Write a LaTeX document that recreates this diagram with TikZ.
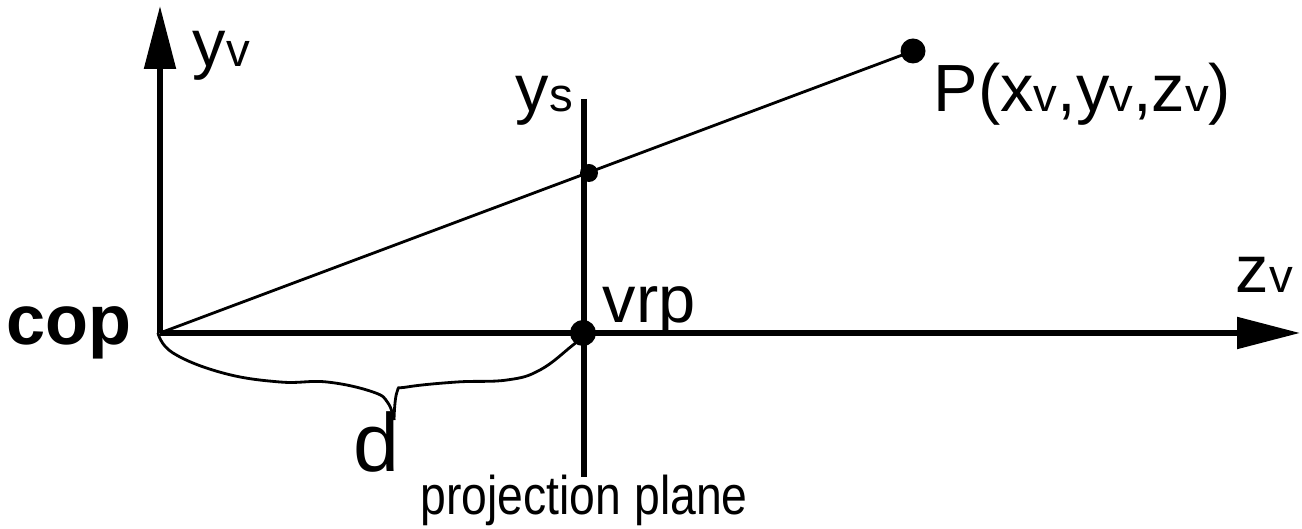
\documentclass[tikz,border=0pt]{standalone}
\usepackage{fontspec}
\setmainfont{Liberation Sans}
\usetikzlibrary{arrows.meta}
\newcommand{\ssc}[1]{{\fontsize{13.5}{16}\selectfont #1}}

\begin{document}
\begin{tikzpicture}[
  axis/.style={line width=1.5pt, -{Triangle[length=0.63cm, width=0.31cm]}},
  lbl/.style={anchor=base west, inner sep=0pt, font=\fontsize{19}{23}\selectfont},
  dot/.style={circle, fill=black, inner sep=0pt, minimum size=#1}
]
  \useasboundingbox (-1.60,-1.96) rectangle (11.42,3.33);

  \coordinate (cop) at (0,0);
  \coordinate (vtop) at (0,3.27);
  \coordinate (zend) at (11.40,0);
  \coordinate (ptop) at (4.24,2.34);
  \coordinate (pbot) at (4.24,-1.44);

  % axes and projection plane
  \draw[axis] (cop) -- (vtop);
  \draw[axis] (cop) -- (zend);
  \draw[line width=1.5pt] (ptop) -- (pbot);

  % projector from cop through P
  \node[dot=0.25cm] (P) at (7.53,2.82) {};
  \draw[line width=0.8pt] (cop) -- (P.center);
  \node[dot=0.18cm] (hit) at (4.29,1.60) {};
  \node[dot=0.26cm] (vrp) at (4.23,0) {};

  % brace for d
  \draw[line width=0.8pt] plot[smooth, tension=0.7] coordinates {(-0.02,0) (0.13,-0.20) (0.63,-0.40) (1.20,-0.49) (1.67,-0.49) (2.13,-0.59) (2.28,-0.70) (2.34,-0.87)};
  \draw[line width=0.8pt] plot[smooth, tension=0.7] coordinates {(2.34,-0.87) (2.37,-0.59) (2.47,-0.54) (2.97,-0.49) (3.47,-0.47) (3.80,-0.37) (4.13,-0.12) (4.30,0.02) (4.25,0.04)};

  % labels
  \node[lbl] (yv) at (0.32,2.66) {y\ssc{v}};
  \node[lbl] (ys) at (3.55,2.21) {y\ssc{s}};
  \node[lbl] (vrplbl) at (4.42,0.10) {vrp};
  \node[lbl] (Plbl) at (7.73,2.21) {P(x\ssc{v},y\ssc{v},z\ssc{v})};
  \node[lbl] (zv) at (10.75,0.40) {z\ssc{v}};
  \node[anchor=base east, inner sep=0pt, font=\bfseries\fontsize{20}{24}\selectfont] (coplbl) at (-0.28,-0.12) {cop};
  \node[anchor=base west, inner sep=0pt, font=\fontsize{23.5}{28}\selectfont] (d) at (1.93,-1.39) {d};
  \node[anchor=base west, inner sep=0pt, font=\fontsize{15.5}{19}\selectfont] (plane) at (2.60,-1.82) {\scalebox{0.85}[1]{projection plane}};
\end{tikzpicture}
\end{document}
